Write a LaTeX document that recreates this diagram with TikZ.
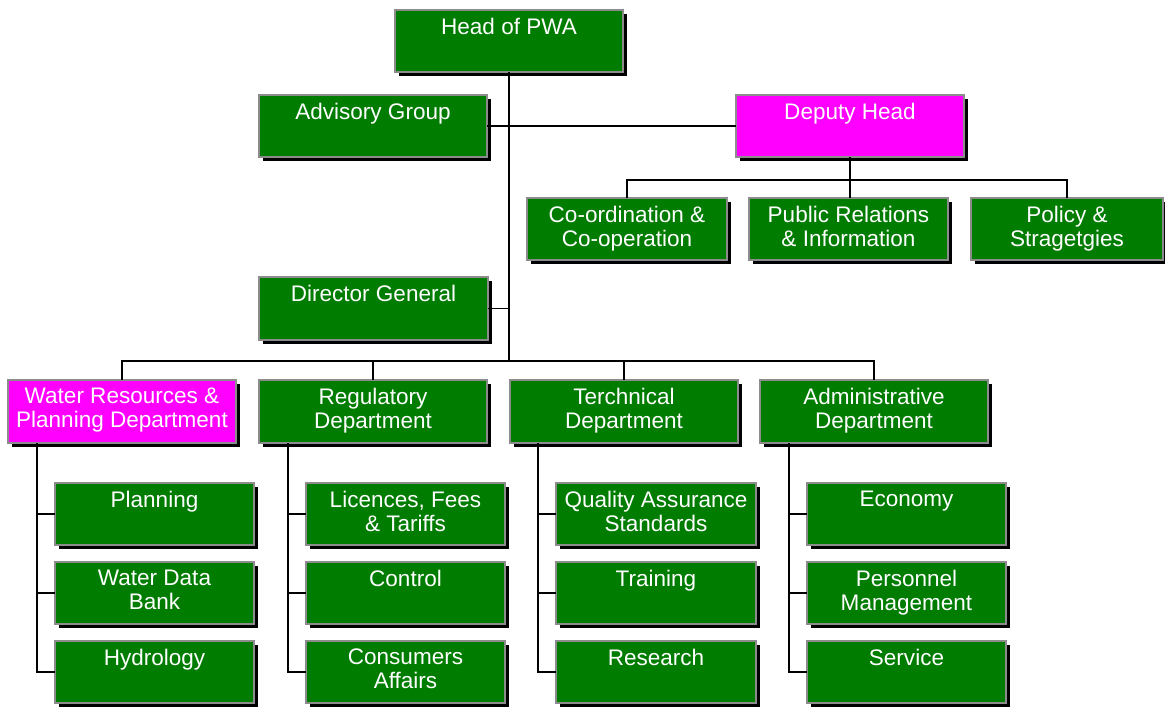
\documentclass[tikz,border=0pt]{standalone}
\usepackage{fontspec}
\setmainfont{Liberation Sans}
\usetikzlibrary{shadows}
\definecolor{boxgreen}{HTML}{007C00}
\definecolor{boxmag}{HTML}{FF00FF}
\definecolor{boxedge}{HTML}{8C8C8C}
\tikzset{
  obx/.style={draw=boxedge, line width=1pt, rectangle, inner sep=0pt, outer sep=0pt,
    drop shadow={shadow xshift=3pt, shadow yshift=-3pt, fill=black, opacity=1}},
  otext/.style={anchor=north, inner sep=0pt, yshift=-5.6pt, text=white, align=center,
    font=\fontsize{16.9}{18}\selectfont},
  conn/.style={draw=black, line width=1.1pt}
}
\newcommand\obox[7]{%
  \node[obx, fill=#6, minimum width={(#4-#2)*0.75pt}, minimum height={(#5-#3)*0.75pt},
    label={[otext]north:{#7}}] (#1) at ({(#2+#4)/2},{(#3+#5)/2}) {};}
\begin{document}
\begin{tikzpicture}[x=0.75pt, y=-0.75pt]
\useasboundingbox (0,0) rectangle (1165,707);
% top
\obox{head}{395}{10}{623}{72}{boxgreen}{Head of PWA}
\obox{adv}{259}{95}{487}{157}{boxgreen}{Advisory Group}
\obox{dep}{736}{95}{964}{157}{boxmag}{Deputy Head}
\obox{coop}{527}{198}{727}{260}{boxgreen}{Co-ordination \&\\Co-operation}
\obox{pub}{749}{198}{948}{260}{boxgreen}{Public Relations\\\& Information}
\obox{pol}{971}{198}{1163}{260}{boxgreen}{Policy \&\\Stragetgies}
\obox{dg}{259}{277}{488}{340}{boxgreen}{Director General}
% departments
\obox{wr}{8}{380}{236}{443}{boxmag}{Water Resources \&\\Planning Department}
\obox{reg}{259}{380}{487}{443}{boxgreen}{Regulatory\\Department}
\obox{tec}{510}{380}{738}{443}{boxgreen}{Terchnical\\Department}
\obox{adm}{760}{380}{988}{443}{boxgreen}{Administrative\\Department}
% sub units
\obox{plan}{55}{483}{254}{545}{boxgreen}{Planning}
\obox{wdb}{55}{562}{254}{624}{boxgreen}{Water Data\\Bank}
\obox{hyd}{55}{641}{254}{703}{boxgreen}{Hydrology}
\obox{lic}{306}{483}{505}{545}{boxgreen}{Licences, Fees\\\& Tariffs}
\obox{ctl}{306}{562}{505}{624}{boxgreen}{Control}
\obox{con}{306}{641}{505}{703}{boxgreen}{Consumers\\Affairs}
\obox{qas}{556}{483}{756}{545}{boxgreen}{Quality Assurance\\Standards}
\obox{trn}{556}{562}{756}{624}{boxgreen}{Training}
\obox{res}{556}{641}{756}{703}{boxgreen}{Research}
\obox{eco}{807}{483}{1006}{545}{boxgreen}{Economy}
\obox{per}{807}{562}{1006}{624}{boxgreen}{Personnel\\Management}
\obox{ser}{807}{641}{1006}{703}{boxgreen}{Service}
% junction coordinates
\coordinate (tb) at (509,361);
\coordinate (dj) at (850,180);
\coordinate (s1) at (37,0);
\coordinate (s2) at (288,0);
\coordinate (s3) at (538,0);
\coordinate (s4) at (789,0);
% connectors
\draw[conn] (head.south) -- (tb);
\draw[conn] (adv.east) -- (adv.east -| dep.west);
\draw[conn] (dg.east) -- (dg.east -| tb);
\draw[conn] (dep.south) -- (dj);
\draw[conn] (dj) -| (coop.north);
\draw[conn] (dj) -| (pol.north);
\draw[conn] (dj) -- (dj |- pub.north);
\draw[conn] (tb) -| (wr.north);
\draw[conn] (tb) -| (reg.north);
\draw[conn] (tb) -| (tec.north);
\draw[conn] (tb) -| (adm.north);
\draw[conn] (wr.south -| s1) |- (hyd.west);
\draw[conn] (plan.west -| s1) -- (plan.west);
\draw[conn] (wdb.west -| s1) -- (wdb.west);
\draw[conn] (reg.south -| s2) |- (con.west);
\draw[conn] (lic.west -| s2) -- (lic.west);
\draw[conn] (ctl.west -| s2) -- (ctl.west);
\draw[conn] (tec.south -| s3) |- (res.west);
\draw[conn] (qas.west -| s3) -- (qas.west);
\draw[conn] (trn.west -| s3) -- (trn.west);
\draw[conn] (adm.south -| s4) |- (ser.west);
\draw[conn] (eco.west -| s4) -- (eco.west);
\draw[conn] (per.west -| s4) -- (per.west);
\end{tikzpicture}
\end{document}
